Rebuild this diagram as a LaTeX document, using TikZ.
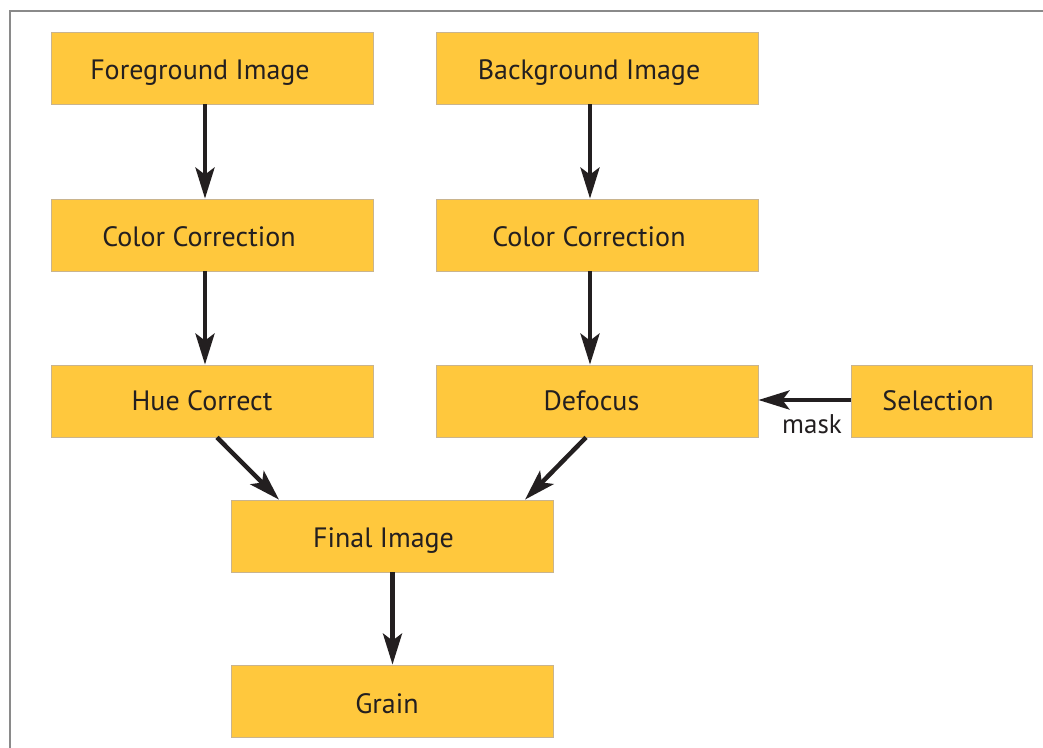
\documentclass[tikz,border=0pt]{standalone}
\usepackage{fontspec}
\setmainfont{PT Sans}
\usetikzlibrary{arrows.meta}
\definecolor{boxfill}{HTML}{FFC83D}
\definecolor{boxline}{HTML}{C9B48E}
\definecolor{txt}{HTML}{231F20}
\definecolor{framec}{HTML}{8A8A8A}
\newcommand{\lft}[3][20pt]{\hspace*{-#1}\raisebox{-#2}[\height][\depth]{#3}}
\begin{document}
\begin{tikzpicture}[x=1pt,y=-1pt,
  box/.style={draw=boxline,line width=0.8pt,fill=boxfill,minimum width=322pt,minimum height=72pt,inner sep=0pt,font=\fontsize{28}{32}\selectfont,text=txt},
  arr/.style={draw=txt,line width=4.5pt,-{Stealth[length=31pt,width=19pt,inset=7pt]}}]
\useasboundingbox (0,0) rectangle (1043,747);
\draw[framec,line width=2.5pt] (10,760) -- (10,11) -- (1060,11);
\node[box] (fg) at (212,68) {\lft[24pt]{5pt}{Foreground Image}};
\node[box] (bg) at (597,68) {\lft[16pt]{5pt}{Background Image}};
\node[box] (cc1) at (212,235) {\lft[26pt]{2pt}{Color Correction}};
\node[box] (cc2) at (597,235) {\lft[16pt]{2pt}{Color Correction}};
\node[box] (hue) at (212,401) {\lft[20pt]{0pt}{Hue Correct}};
\node[box] (def) at (597,401) {\lft[11pt]{0pt}{Defocus}};
\node[box,minimum width=181pt] (sel) at (942,401) {\lft[8pt]{0pt}{Selection}};
\node[box] (fin) at (392.5,536) {\lft[18pt]{5pt}{Final Image}};
\node[box] (gr) at (392.5,701) {\lft[11pt]{3pt}{Grain}};
\draw[arr] (fg.south -| 205,0) -- (cc1.north -| 205,0);
\draw[arr] (cc1.south -| 205,0) -- (hue.north -| 205,0);
\draw[arr] (bg.south -| 590,0) -- (cc2.north -| 590,0);
\draw[arr] (cc2.south -| 590,0) -- (def.north -| 590,0);
\draw[arr] (hue.south -| 217,0) -- (fin.north -| 279,0);
\draw[arr] (def.south -| 586,0) -- (fin.north -| 525,0);
\draw[arr] (fin.south) -- (gr.north);
\draw[arr] (sel.west |- 0,400) -- (def.east |- 0,400);
\node[font=\fontsize{27}{30}\selectfont,text=txt,inner sep=0pt] (mk) at (812,424) {mask};
\end{tikzpicture}
\end{document}
